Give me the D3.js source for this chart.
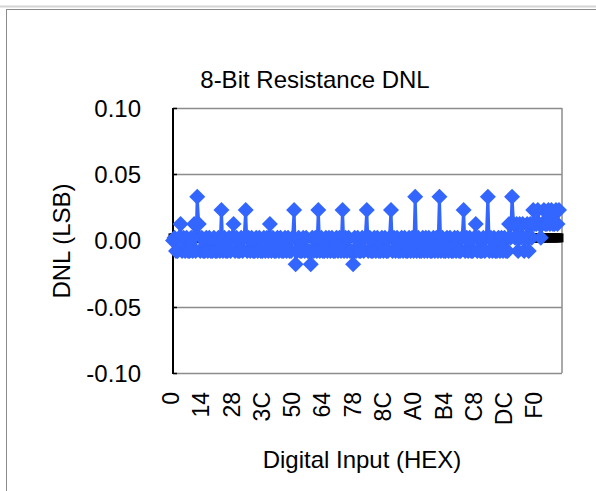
<!DOCTYPE html>
<html>
<head>
<meta charset="utf-8">
<script src="https://cdn.jsdelivr.net/npm/d3@7"></script>
<style>
  html, body { margin: 0; padding: 0; background: #fff; }
  svg { display: block; }
  text { font-family: "Liberation Sans", Arial, sans-serif; fill: #000; }
</style>
</head>
<body>
<svg id="chart" width="596" height="491"></svg>
<script>
// DNL per input code (LSB), codes 0x00 .. 0xFF
const dnlRow0  = [0, 0.002, -0.008, -0.008, 0.002, 0.0125, -0.008, 0.002, -0.008, 0.002, -0.008, -0.008, 0.002, -0.008, 0.0125, -0.008];
const dnlRow1  = [0.033, 0.0125, -0.008, 0.002, -0.008, -0.008, 0.002, -0.008, 0.002, -0.008, -0.008, 0.002, -0.008, -0.008, 0.002, -0.008];
const dnlRow2  = [0.023, -0.008, 0.002, -0.008, -0.008, 0.002, -0.008, 0.002, 0.0125, -0.008, 0.002, -0.008, -0.008, 0.002, -0.008, 0.002];
const dnlRow3  = [0.023, -0.008, 0.002, -0.008, 0.002, -0.008, -0.008, 0.002, -0.008, 0.002, -0.008, -0.008, 0.002, -0.008, 0.002, -0.008];
const dnlRow4  = [0.0125, -0.008, 0.002, -0.008, -0.008, 0.002, -0.008, 0.002, -0.008, -0.008, 0.002, -0.008, 0.002, -0.008, -0.008, 0.002];
const dnlRow5  = [0.023, -0.018, -0.008, 0.002, -0.008, -0.008, 0.002, -0.008, 0.002, -0.008, -0.008, -0.018, 0.002, -0.008, 0.002, -0.008];
const dnlRow6  = [0.023, -0.008, 0.002, -0.008, -0.008, 0.002, -0.008, 0.002, -0.008, 0.002, -0.008, -0.008, 0.002, -0.008, 0.002, -0.008];
const dnlRow7  = [0.023, -0.008, 0.002, -0.008, 0.002, -0.008, -0.008, -0.018, 0.002, -0.008, 0.002, -0.008, -0.008, 0.002, -0.008, 0.002];
const dnlRow8  = [0.023, -0.008, 0.002, -0.008, -0.008, 0.002, -0.008, 0.002, -0.008, -0.008, 0.002, -0.008, 0.002, -0.008, -0.008, 0.002];
const dnlRow9  = [0.023, -0.008, 0.002, -0.008, 0.002, -0.008, -0.008, 0.002, -0.008, 0.002, -0.008, -0.008, 0.002, -0.008, 0.002, -0.008];
const dnlRow10 = [0.033, -0.008, 0.002, -0.008, -0.008, 0.002, -0.008, 0.002, -0.008, 0.002, -0.008, -0.008, 0.002, -0.008, 0.002, -0.008];
const dnlRow11 = [0.033, -0.008, 0.002, -0.008, -0.008, 0.002, -0.008, 0.002, -0.008, -0.008, 0.002, -0.008, 0.002, -0.008, -0.008, 0.002];
const dnlRow12 = [0.023, -0.008, 0.002, -0.008, 0.002, -0.008, -0.008, 0.002, 0.0125, -0.008, 0.002, -0.008, -0.008, 0.002, -0.008, 0.002];
const dnlRow13 = [0.033, -0.008, 0.002, -0.008, 0.002, -0.008, -0.008, 0.002, -0.008, 0.002, -0.008, 0.002, -0.008, -0.008, 0.0125, 0.002];
const dnlRow14 = [0.033, 0.0125, 0.002, 0.0125, -0.008, 0.0125, 0.002, 0.0125, -0.008, 0.002, 0.0125, -0.008, 0.0125, 0.002, 0.023, 0.0125];
const dnlRow15 = [0.0125, 0.023, 0.0125, 0.002, 0.0125, 0.023, 0.0125, 0.0125, 0.023, 0.0125, 0.023, 0.0125, 0.0125, 0.023, 0.0125, 0.023];

const dnl = [].concat(dnlRow0, dnlRow1, dnlRow2, dnlRow3, dnlRow4, dnlRow5, dnlRow6, dnlRow7,
                      dnlRow8, dnlRow9, dnlRow10, dnlRow11, dnlRow12, dnlRow13, dnlRow14, dnlRow15);

// reference series drawn underneath (ideal step, near zero)
const refLevel = 0.002;

const codes = d3.range(dnl.length);
const tickCodes = [0, 20, 40, 60, 80, 100, 120, 140, 160, 180, 200, 220, 240];
const tickLabels = ["0", "14", "28", "3C", "50", "64", "78", "8C", "A0", "B4", "C8", "DC", "F0"];
const yTicks = [-0.10, -0.05, 0.00, 0.05, 0.10];

const svg = d3.select("#chart");

// chart frame
svg.append("line").attr("x1", 0).attr("x2", 596).attr("y1", 6.5).attr("y2", 6.5)
  .attr("stroke", "#d4d4d4").attr("stroke-width", 2);
svg.append("rect").attr("x", 6.5).attr("y", 9.5).attr("width", 600).attr("height", 500)
  .attr("fill", "#fff").attr("stroke", "#8c8c8c").attr("stroke-width", 1);

const plot = { left: 173, right: 562, top: 108, bottom: 373 };
const x = d3.scaleLinear().domain([0, 255]).range([173, 559]);
const y = d3.scaleLinear().domain([-0.10, 0.10]).range([plot.bottom, plot.top]);

// gridlines
svg.append("g").selectAll("line").data(yTicks).join("line")
  .attr("x1", plot.left).attr("x2", plot.right)
  .attr("y1", d => Math.round(y(d)) + 0.5).attr("y2", d => Math.round(y(d)) + 0.5)
  .attr("stroke", "#8c8c8c").attr("stroke-width", 1.5);
svg.append("line")
  .attr("x1", plot.right).attr("x2", plot.right).attr("y1", plot.top).attr("y2", plot.bottom)
  .attr("stroke", "#8c8c8c").attr("stroke-width", 1.5);

// value axis (plain hyphen for negatives)
const fmt = d3.format(".2f");
const yAxis = d3.axisLeft(y).tickValues(yTicks).tickSize(0).tickPadding(0)
  .tickFormat(d => fmt(d).replace("\u2212", "-"));
const gy = svg.append("g").attr("transform", `translate(${plot.left},0)`).call(yAxis);
gy.select(".domain").remove();
gy.selectAll("text").attr("x", -32).attr("dy", "0.35em")
  .style("font-size", "24px").style("font-family", "'Liberation Sans', Arial, sans-serif");
svg.append("line").attr("x1", plot.left).attr("x2", plot.left)
  .attr("y1", plot.top).attr("y2", plot.bottom + 1).attr("stroke", "#000").attr("stroke-width", 2);
svg.append("g").selectAll("line").data(yTicks).join("line")
  .attr("x1", plot.left).attr("x2", plot.left + 4)
  .attr("y1", d => Math.round(y(d)) + 0.5).attr("y2", d => Math.round(y(d)) + 0.5)
  .attr("stroke", "#000").attr("stroke-width", 1.5);

// reference series (black squares)
svg.append("g").selectAll("rect").data(codes).join("rect")
  .attr("x", d => x(d) - 4.5).attr("y", y(refLevel) - 4.5)
  .attr("width", 9).attr("height", 9).attr("fill", "#000");

// DNL series: line + diamonds
const line = d3.line().x((d, i) => x(i)).y(d => y(d));
svg.append("path").datum(dnl).attr("d", line)
  .attr("fill", "none").attr("stroke", "#3366ff").attr("stroke-width", 3);
const diamond = "M0,-8L8,0L0,8L-8,0Z";
svg.append("g").selectAll("path").data(dnl).join("path")
  .attr("d", diamond)
  .attr("transform", (d, i) => `translate(${x(i)},${y(d)})`)
  .attr("fill", "#3366ff");

// category labels
svg.append("g").selectAll("text").data(tickCodes).join("text")
  .attr("transform", (d, i) => `translate(${x(d) - 2},392) rotate(-90)`)
  .attr("text-anchor", "end").attr("dy", "0.35em")
  .style("font-size", "23px")
  .text((d, i) => tickLabels[i]);

// titles
svg.append("text").attr("x", 315).attr("y", 88).attr("text-anchor", "middle")
  .style("font-size", "24px").text("8-Bit Resistance DNL");
svg.append("text").attr("transform", "translate(70,241) rotate(-90)")
  .attr("text-anchor", "middle").style("font-size", "24px").text("DNL (LSB)");
svg.append("text").attr("x", 362).attr("y", 468).attr("text-anchor", "middle")
  .style("font-size", "24px").text("Digital Input (HEX)");
</script>
</body>
</html>
